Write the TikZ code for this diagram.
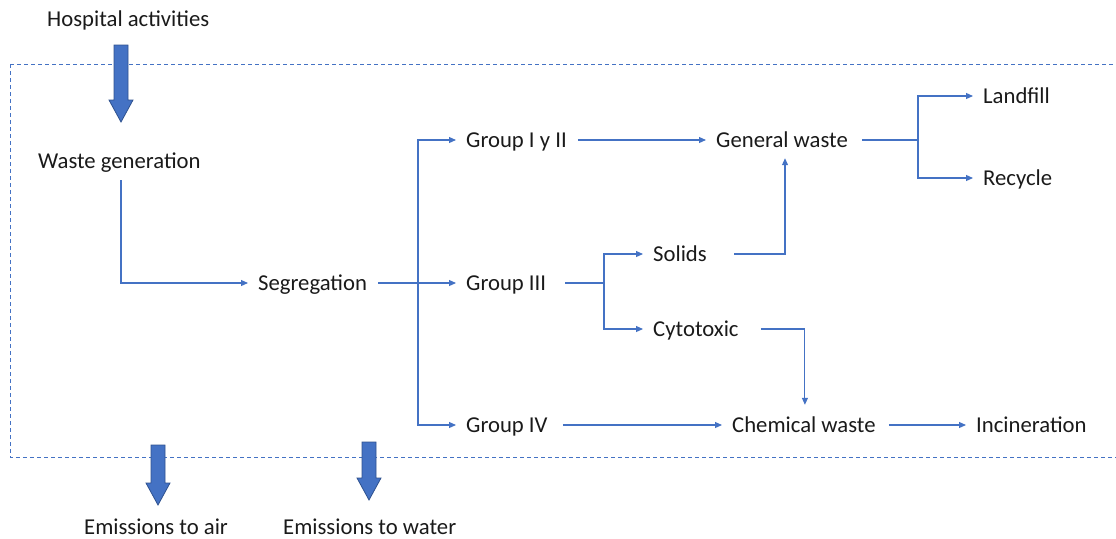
\documentclass[tikz,border=0pt]{standalone}
\usepackage{fontspec}
\setmainfont{Carlito}
\usetikzlibrary{arrows.meta,calc}
\definecolor{obl}{HTML}{4472C4}
\definecolor{obd}{HTML}{2F528F}
\definecolor{txt}{HTML}{1A1A1A}
\tikzset{
  lbl/.style={anchor=west,inner xsep=10pt,inner ysep=0pt,text height=17pt,text depth=3pt,font=\fontsize{22.7}{27}\selectfont,text=txt},
  conn/.style={draw=obl,line width=1.1pt,-{Triangle[length=7pt,width=6pt]}},
  seg/.style={draw=obl,line width=1.1pt},
  fat/.style={fill=obl,draw=obd,line width=0.8pt},
  frame/.style={draw=obl,line width=1pt,dash pattern=on 4pt off 3pt}
}
\newcommand{\fatarrow}[3]{%
  \path[fat] (#1-7,#2) -- (#1+7,#2) -- (#1+7,#3-22) -- (#1+12,#3-22) -- (#1,#3) -- (#1-12,#3-22) -- (#1-7,#3-22) -- cycle;}
\begin{document}
\begin{tikzpicture}[x=1pt,y=-1pt]
\useasboundingbox (0,0) rectangle (1116,538);
\draw[frame] (10,64) -- (1125,64);
\draw[frame] (10,64) -- (10,457) -- (1125,457);

\node[lbl] (hosp) at (37,20) {Hospital activities};
\node[lbl] (wg) at (28,161) {Waste generation};
\node[lbl] (seg) at (248,283) {Segregation};
\node[lbl] (g12) at (456,140) {Group I y II};
\node[lbl] (g3) at (456,283) {Group III};
\node[lbl] (g4) at (456,425) {Group IV};
\node[lbl] (gw) at (706,140) {General waste};
\node[lbl] (sol) at (643,254) {Solids};
\node[lbl] (cyt) at (643,329) {Cytotoxic};
\node[lbl] (cw) at (722,425) {Chemical waste};
\node[lbl] (lf) at (973,96) {Landfill};
\node[lbl] (rc) at (973,178) {Recycle};
\node[lbl] (inc) at (966,425) {Incineration};
\node[lbl] (eair) at (74,527) {Emissions to air};
\node[lbl] (ewat) at (273,527) {Emissions to water};

% big arrows
\fatarrow{121}{45}{122}
\fatarrow{158}{445}{505}
\fatarrow{369}{442}{500}

% connectors
\coordinate (sj) at (418,283);
\coordinate (gj) at (918,140);
\coordinate (g3j) at (604,283);
\draw[conn] ($(wg.west)+(93,19)$) |- (seg.west);
\draw[seg] ([xshift=1pt]seg.east) -- (sj);
\draw[conn] (sj) -- (g3.west);
\draw[conn] (sj) |- (g12.west);
\draw[conn] (sj) |- (g4.west);
\draw[conn] ([xshift=1pt]g12.east) -- (gw.west);
\draw[seg] ([xshift=4pt]gw.east) -- (gj);
\draw[conn] (gj) |- (lf.west);
\draw[conn] (gj) |- (rc.west);
\draw[seg] ([xshift=9pt]g3.east) -- (g3j);
\draw[conn] (g3j) |- (sol.west);
\draw[conn] (g3j) |- (cyt.west);
\draw[conn] ([xshift=17pt]sol.east) -| ($(gw.south)+(3,8)$);
\draw[conn] ([xshift=12pt]cyt.east) -| ($(cw.north)+(1,-10)$);
\draw[conn] ([xshift=5pt]g4.east) -- (cw.west);
\draw[conn] ([xshift=3pt]cw.east) -- (inc.west);
\end{tikzpicture}
\end{document}
